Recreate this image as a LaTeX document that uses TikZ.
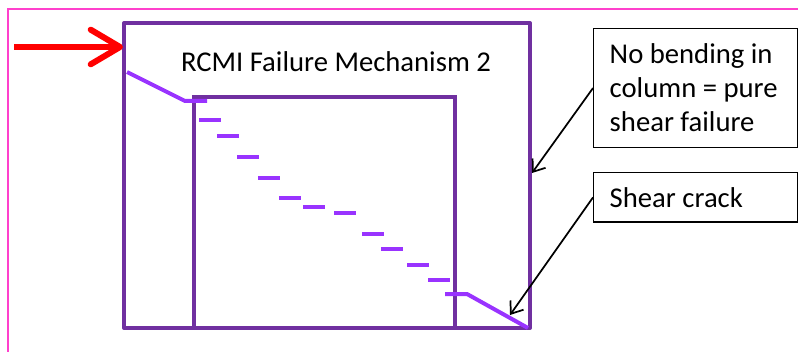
\documentclass[tikz,border=0pt]{standalone}
\usepackage{fontspec}
\setmainfont{Carlito}
\usetikzlibrary{arrows.meta,positioning}
\definecolor{frmpink}{RGB}{255,64,204}
\definecolor{colpur}{RGB}{112,48,160}
\definecolor{crkpur}{RGB}{153,51,255}
\tikzset{
  frm/.style={frmpink, line width=1.5pt},
  colbox/.style={colpur, line width=3pt, line join=round},
  colin/.style={colpur, line width=2.4pt},
  crk/.style={crkpur, line width=3pt},
  push/.style={-{Straight Barb[length=22pt, width=26pt, line cap=round, line join=round]}, red, line width=4.5pt},
  callout/.style={draw=black, line width=1.1pt, anchor=north west, align=flush left,
              minimum width=153pt, text width=129pt, inner xsep=12pt,
              font=\fontsize{21.5}{25.5}\selectfont},
  ptr/.style={-{Straight Barb[length=8pt, width=12pt]}, black, line width=1.3pt},
  ttl/.style={font=\fontsize{21.5}{24}\selectfont},
}
\begin{document}
\begin{tikzpicture}[x=0.75pt, y=-0.75pt]
  \useasboundingbox (0,0) rectangle (798,352);
  % page frame
  \draw[frm] (8,352) -- (8,9) -- (798,9);
  % column and infill
  \draw[colbox] (124,23) rectangle (530,328);
  \draw[colin] (194,328) -- (194,97) -- (455,97) -- (455,328);
  \node[ttl] (title) at (336,62) {RCMI Failure Mechanism 2};
  % lateral load
  \coordinate (load0) at (14,47);
  \coordinate (load1) at (123,47);
  \draw[push] (load0) -- (load1);
  % crack
  \draw[crk] (127,72) -- (185,101) -- (207,101);
  \foreach \x/\y in {199/120, 217/136, 237/157, 258/178, 279/198, 303/207,
                     334/213, 362/234, 381/249, 407/265, 428/280}
    \draw[crk] (\x,\y) -- ++(22,0);
  \draw[crk] (445,294) -- (467,294) -- (528,328);
  % callouts
  \node[callout, minimum height=89pt] (nobend) at (593,28)
    {No bending in\\column = pure\\shear failure};
  \node[callout, minimum height=37pt] (shear) at (593,172) {Shear crack};
  \coordinate (colface) at (532,173);
  \coordinate (crkend) at (510,315);
  \draw[ptr] (nobend.west) -- (colface);
  \draw[ptr] (shear.west) -- (crkend);
\end{tikzpicture}
\end{document}
